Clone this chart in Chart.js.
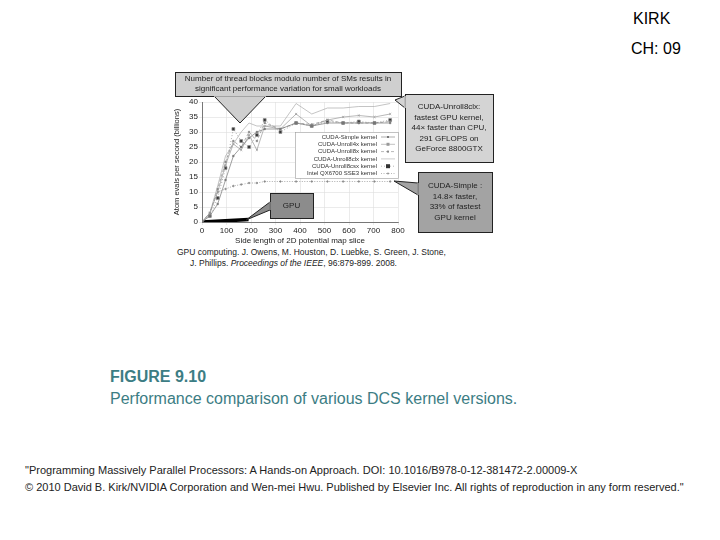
<!DOCTYPE html>
<html>
<head>
<meta charset="utf-8">
<script src="https://cdn.jsdelivr.net/npm/chart.js@4"></script>
<style>
  body { margin: 0; width: 720px; height: 540px; background: #fff; font-family: "Liberation Sans", Arial, sans-serif; position: relative; overflow: hidden; }
  .abs { position: absolute; white-space: nowrap; }
  #kirk { left: 633px; top: 10px; font-size: 16px; color: #000; }
  #ch { left: 631px; top: 40px; font-size: 16px; color: #000; }
  #fig { left: 110px; top: 368px; font-size: 16px; font-weight: bold; color: #3c7d84; }
  #cap { left: 110px; top: 390px; font-size: 16px; color: #3c7d84; }
  .foot { left: 25px; font-size: 11px; color: #222; }
  #wrap { position: absolute; left: 172px; top: 68px; width: 330px; height: 178px; }
  .cite { left: 177px; font-size: 8.5px; color: #222; }
</style>
</head>
<body>
<div class="abs" id="kirk">KIRK</div>
<div class="abs" id="ch">CH: 09</div>
<div id="wrap"><canvas id="dcsChart" width="330" height="178"></canvas></div>
<div class="abs cite" style="top:247px">GPU computing. J. Owens, M. Houston, D. Luebke, S. Green, J. Stone,</div>
<div class="abs cite" style="top:258px;left:190px">J. Phillips. <i>Proceedings of the IEEE</i>, 96:879-899. 2008.</div>
<div class="abs" id="fig">FIGURE 9.10</div>
<div class="abs" id="cap">Performance comparison of various DCS kernel versions.</div>
<div class="abs foot" style="top:464px">"Programming Massively Parallel Processors: A Hands-on Approach. DOI: 10.1016/B978-0-12-381472-2.00009-X</div>
<div class="abs foot" style="top:481px">© 2010 David B. Kirk/NVIDIA Corporation and Wen-mei Hwu. Published by Elsevier Inc. All rights of reproduction in any form reserved."</div>

<script>
// Valores (lado del mapa vs. miles de millones de evaluaciones/s)
const ladoMapa = [0, 32, 64, 96, 128, 160, 192, 224, 256, 320, 384, 448, 512, 576, 640, 704, 768];
const etiquetas = [
  'CUDA-Simple kernel',
  'CUDA-Unroll4x kernel',
  'CUDA-Unroll8x kernel',
  'CUDA-Unroll8clx kernel',
  'CUDA-Unroll8csx kernel',
  'Intel QX6700 SSE3 kernel'
];
const simple     = [0, 2, 6, 14, 22, 25, 28, 30, 31, 31, 33, 32, 33, 33, 33, 33, 33];
const unroll4x   = [0, 3, 10, 19, 26, 24, 29, 24, 32, 31, 36, 32, 34, 35, 35.5, 35, 36];
const unroll8x   = [0, 3, 11, 20, 27, 25, 30, 27, 33, 31, 33, 32.5, 34, 33, 33, 33, 33.5];
const unroll8clx = [0, 3, 12, 22, 26, 30, 33, 32, 32, 32, 39.5, 36, 38, 38, 38.5, 38.5, 39.5];
const unroll8csx = [0, 2, 8, 18, 31, 27, 25, 29, 34, 30, 33, 32, 33.5, 33, 33.5, 33, 34];
const intelSSE3  = [0, 3, 10, 11, 12, 12.5, 13, 13, 13.5, 13.5, 13.5, 13.5, 13.5, 13.5, 13.5, 13.5, 13.5];
const gpuX = [0, 190];
const gpuY = [0, 0.8];
const xTicks = [0, 100, 200, 300, 400, 500, 600, 700, 800];
const yTicks = [0, 5, 10, 15, 20, 25, 30, 35, 40];

const series = [simple, unroll4x, unroll8x, unroll8clx, unroll8csx, intelSSE3];
const estilos = [
  { color: '#777', dash: [], pt: 'rect', r: 1 },
  { color: '#999', dash: [], pt: 'crossRot', r: 1.5 },
  { color: '#888', dash: [3, 2], pt: 'rect', r: 1 },
  { color: '#aaa', dash: [], pt: false, r: 0 },
  { color: '#888', dash: [1, 2], pt: 'rect', r: 2 },
  { color: '#888', dash: [1, 1.5], pt: 'circle', r: 0.8 }
];

const datasets = series.map((vals, i) => ({
  label: etiquetas[i],
  data: vals.map((v, j) => ({ x: ladoMapa[j], y: v })),
  borderColor: estilos[i].color,
  backgroundColor: i === 4 ? '#333' : estilos[i].color,
  borderWidth: 0.7,
  borderDash: estilos[i].dash,
  pointStyle: estilos[i].pt,
  pointRadius: estilos[i].r,
  tension: 0
}));
datasets.push({
  label: 'GPU',
  data: gpuX.map((x, j) => ({ x: x, y: gpuY[j] })),
  borderColor: '#000',
  borderWidth: 3.5,
  pointRadius: 0
});

function caja(ctx, x, y, w, h, fill, lineas, tri) {
  ctx.save();
  ctx.fillStyle = fill;
  ctx.strokeStyle = '#222';
  ctx.lineWidth = 1;
  ctx.beginPath();
  ctx.moveTo(tri[0][0], tri[0][1]);
  ctx.lineTo(tri[1][0], tri[1][1]);
  ctx.lineTo(tri[2][0], tri[2][1]);
  ctx.closePath();
  ctx.fill();
  ctx.stroke();
  ctx.fillRect(x, y, w, h);
  ctx.strokeRect(x + 0.5, y + 0.5, w, h);
  // tapa la unión entre caja y triángulo
  ctx.beginPath();
  ctx.moveTo(tri[0][0], tri[0][1]);
  ctx.lineTo(tri[2][0], tri[2][1]);
  ctx.strokeStyle = fill;
  ctx.lineWidth = 1.5;
  ctx.stroke();
  ctx.fillStyle = '#222';
  ctx.font = '8px "Liberation Sans", Arial';
  ctx.textAlign = 'center';
  ctx.textBaseline = 'middle';
  const lh = 10.5;
  const y0 = y + h / 2 - (lineas.length - 1) * lh / 2;
  lineas.forEach((t, i) => ctx.fillText(t, x + w / 2, y0 + i * lh));
  ctx.restore();
}

const anotaciones = {
  id: 'anotaciones',
  afterDraw(chart) {
    const ctx = chart.ctx;
    // leyenda dentro del área
    const lx = 123, ly = 64, lw = 103, lh = 46;
    ctx.save();
    ctx.fillStyle = '#fff';
    ctx.fillRect(lx, ly, lw, lh);
    ctx.strokeStyle = '#999';
    ctx.lineWidth = 0.6;
    ctx.strokeRect(lx + 0.5, ly + 0.5, lw, lh);
    ctx.font = '6px "Liberation Sans", Arial';
    ctx.textAlign = 'right';
    ctx.textBaseline = 'middle';
    chart.data.datasets.slice(0, 6).forEach((d, i) => {
      const yy = ly + 5 + i * 7.3;
      ctx.fillStyle = '#333';
      ctx.fillText(d.label, lx + 82, yy);
      ctx.strokeStyle = d.borderColor;
      ctx.setLineDash(d.borderDash);
      ctx.beginPath();
      ctx.moveTo(lx + 86, yy);
      ctx.lineTo(lx + 100, yy);
      ctx.stroke();
      ctx.setLineDash([]);
      if (d.pointRadius) {
        ctx.fillStyle = d.backgroundColor;
        ctx.fillRect(lx + 93 - d.pointRadius, yy - d.pointRadius, d.pointRadius * 2, d.pointRadius * 2);
      }
    });
    ctx.restore();

    caja(ctx, 3, 4, 226, 24, '#cfcfcf',
      ['Number of thread blocks modulo number of SMs results in',
       'significant performance variation for small workloads'],
      [[42, 28], [68, 55], [94, 28]]);
    caja(ctx, 233, 26, 88, 68, '#d4d4d4',
      ['CUDA-Unroll8clx:', 'fastest GPU kernel,', '44× faster than CPU,', '291 GFLOPS on', 'GeForce 8800GTX'],
      [[233, 28], [223, 32], [233, 40]]);
    caja(ctx, 246, 104, 74, 60, '#a3a3a3',
      ['CUDA-Simple :', '14.8× faster,', '33% of fastest', 'GPU kernel'],
      [[246, 115], [222, 113], [246, 127]]);
    caja(ctx, 98, 125, 43, 25, '#8c8c8c',
      ['GPU'],
      [[98, 134], [74, 152], [98, 142]]);
  }
};

new Chart(document.getElementById('dcsChart'), {
  type: 'line',
  data: { datasets: datasets },
  options: {
    responsive: false,
    animation: false,
    layout: { padding: { left: 0, top: 34, right: 104, bottom: 0 } },
    plugins: { legend: { display: false }, tooltip: { enabled: false } },
    scales: {
      x: {
        type: 'linear', min: 0, max: 800,
        afterFit: s => { s.height = 24; },
        afterBuildTicks: s => { s.ticks = xTicks.map(v => ({ value: v })); },
        grid: { color: '#ddd', lineWidth: 0.6, tickLength: 3 },
        border: { color: '#777' },
        ticks: { color: '#222', font: { size: 8 }, padding: 1, maxRotation: 0 },
        title: { display: true, text: 'Side length of 2D potential map slice', color: '#222', font: { size: 8 }, padding: { top: 0, bottom: 0 } }
      },
      y: {
        min: 0, max: 40,
        afterFit: s => { s.width = 30; },
        afterBuildTicks: s => { s.ticks = yTicks.map(v => ({ value: v })); },
        grid: { color: '#ddd', lineWidth: 0.6, tickLength: 3 },
        border: { color: '#777' },
        ticks: { color: '#222', font: { size: 8 }, padding: 1 },
        title: { display: true, text: 'Atom evals per second (billions)', color: '#222', font: { size: 7.5 }, padding: 0 }
      }
    }
  },
  plugins: [anotaciones]
});
</script>
</body>
</html>
